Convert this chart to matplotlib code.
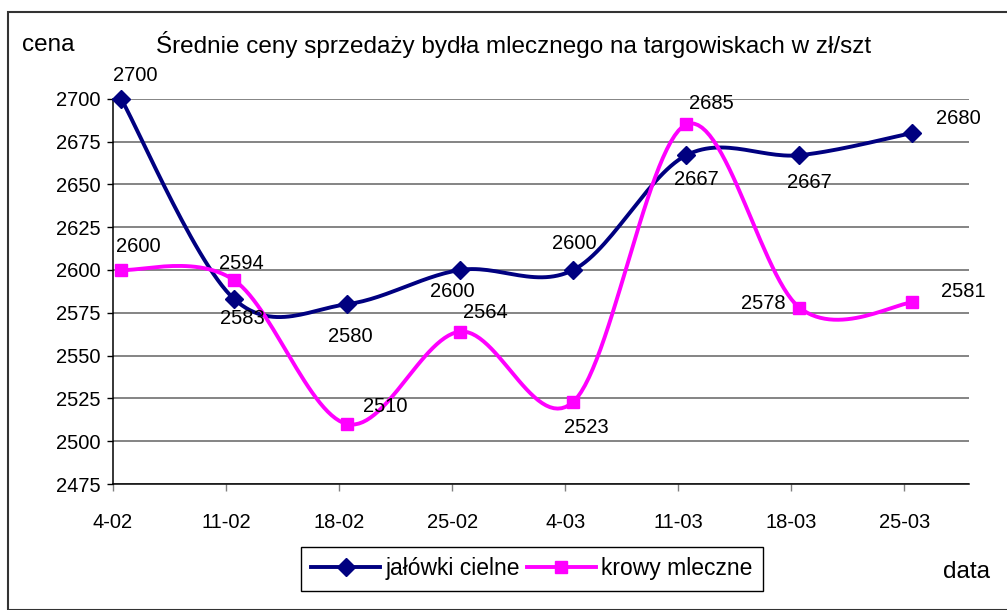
import numpy as np
import matplotlib
matplotlib.use("Agg")
import matplotlib.pyplot as plt
from matplotlib.patches import Rectangle
from matplotlib.lines import Line2D

plt.rcParams['font.family'] = ['Liberation Sans', 'DejaVu Sans']

# ---- data ----
tick_labels = ["4-02", "11-02", "18-02", "25-02", "4-03", "11-03", "18-03", "25-03"]
tick_days = [0, 7, 14, 21, 28, 35, 42, 49]
point_days = [0.5, 7.5, 14.5, 21.5, 28.5, 35.5, 42.5, 49.5]
jalowki = [2700, 2583, 2580, 2600, 2600, 2667, 2667, 2680]
krowy = [2600, 2594, 2510, 2564, 2523, 2685, 2578, 2581]
series_names = ["jałówki cielne", "krowy mleczne"]
# label offsets (pixels) relative to each point
jal_off = [(14, 23), (8, -19), (3, -32), (-8, -22), (1, 26), (10, -24), (10, -27), (46, 14)]
kro_off = [(17, 23), (7, 17), (38, 18), (25, 19), (13, -26), (25, 21), (-36, 4), (51, 11)]

W, H = 1007, 610
fig = plt.figure(figsize=(W / 100, H / 100), dpi=100)
ax = fig.add_axes([113 / W, 1 - 484 / H, (969 - 113) / W, (484 - 98.7) / H])
ax.set_xlim(0, 53)
ax.set_ylim(2475, 2700)

NAVY = "#000080"
MAG = "#FF00FF"


def smooth(xs, ys, n=30):
    pts = ax.transData.transform(np.column_stack([xs, ys]))
    P = np.vstack([pts[0], pts, pts[-1]])
    out = []
    t = np.linspace(0, 1, n)[:, None]
    for i in range(1, len(P) - 2):
        p0, p1, p2, p3 = P[i - 1], P[i], P[i + 1], P[i + 2]
        c1 = p1 + (p2 - p0) / 6.0
        c2 = p2 - (p3 - p1) / 6.0
        seg = ((1 - t) ** 3) * p1 + 3 * ((1 - t) ** 2) * t * c1 + 3 * (1 - t) * t ** 2 * c2 + t ** 3 * p2
        out.append(seg if i == 1 else seg[1:])
    out = np.vstack(out)
    d = ax.transData.inverted().transform(out)
    return d[:, 0], d[:, 1]


# gridlines
ax.set_yticks(np.arange(2475, 2701, 25))
ax.yaxis.grid(True, color="#707070", linewidth=1.2)
ax.set_axisbelow(True)
ax.set_xticks(tick_days)
ax.set_xticklabels(tick_labels)
for s in ["top", "right"]:
    ax.spines[s].set_visible(False)
ax.spines["left"].set_color("black")
ax.spines["bottom"].set_color("black")
ax.spines["left"].set_linewidth(1.1)
ax.spines["bottom"].set_linewidth(1.1)
ax.tick_params(axis="x", direction="out", length=5, width=1, labelsize=14.5, pad=16, colors="black", color="#808080")
ax.tick_params(axis="y", direction="out", length=4, width=1, labelsize=14.5, pad=5)

for vals, col, mk, ms, offs in [(jalowki, NAVY, "D", 9, jal_off), (krowy, MAG, "s", 9, kro_off)]:
    sx, sy = smooth(point_days, vals)
    ax.plot(sx, sy, color=col, linewidth=2.8, clip_on=False, zorder=3, solid_capstyle="round")
    ax.plot(point_days, vals, linestyle="none", marker=mk, markersize=ms, color=col, clip_on=False, zorder=4)
    for x, v, (dx, dy) in zip(point_days, vals, offs):
        ax.annotate(str(v), (x, v), xytext=(dx, dy), textcoords="offset pixels",
                    ha="center", va="center", fontsize=14.5, color="black", zorder=5,
                    annotation_clip=False)

fig.text(514 / W, 1 - 45 / H, "Średnie ceny sprzedaży bydła mlecznego na targowiskach w zł/szt",
         ha="center", va="center", fontsize=17.5)
fig.text(48 / W, 1 - 45 / H, "cena", ha="center", va="center", fontsize=17.5)
fig.text(966 / W, 1 - 572 / H, "data", ha="center", va="center", fontsize=17.5)

handles = [Line2D([], [], color=NAVY, marker="D", markersize=9, linewidth=2.8),
           Line2D([], [], color=MAG, marker="s", markersize=9, linewidth=2.8)]
leg = fig.legend(handles, series_names, loc="center", bbox_to_anchor=(532 / W, 1 - 569 / H),
                 ncol=2, fontsize=16.5, frameon=True, fancybox=False, framealpha=1,
                 edgecolor="black", handlelength=3.0, handletextpad=0.25, columnspacing=0.3,
                 borderpad=0.45)
leg.get_frame().set_linewidth(1.0)

fig.patches.append(Rectangle((8 / W, 0), 1.2, 1 - 12 / H, transform=fig.transFigure,
                             fill=False, edgecolor="#333333", linewidth=1.5))

fig.savefig("out.png", dpi=100)
